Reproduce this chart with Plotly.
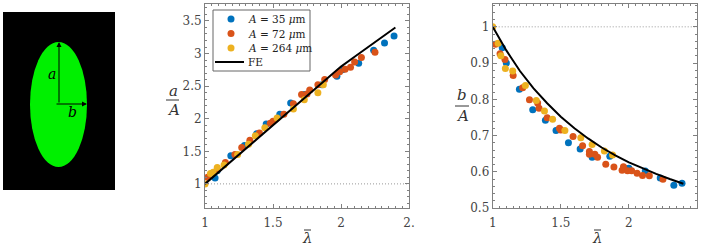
import plotly.graph_objects as go

W, H = 706, 246
FONT = "DejaVu Serif"

# ---- data: a/A vs lambda (middle panel) ----
a35_x = [1.074, 1.09, 1.19, 1.29, 1.38, 1.45, 1.55, 1.63, 1.73, 1.86, 1.97, 2.01, 2.13, 2.24, 2.32, 2.39]
a35_y = [1.09, 1.20, 1.43, 1.59, 1.77, 1.92, 2.07, 2.24, 2.37, 2.52, 2.65, 2.75, 2.85, 3.05, 3.16, 3.27]
a72_x = [1.02, 1.09, 1.15, 1.22, 1.27, 1.33, 1.40, 1.48, 1.50, 1.58, 1.65, 1.71, 1.75, 1.77, 1.83, 1.88, 1.96, 1.99, 2.03, 2.07, 2.10, 2.15, 2.25]
a72_y = [1.10, 1.22, 1.33, 1.45, 1.56, 1.67, 1.78, 1.93, 1.96, 2.07, 2.23, 2.37, 2.38, 2.44, 2.52, 2.60, 2.67, 2.72, 2.76, 2.79, 2.87, 2.94, 3.02]
a264_x = [1.00, 1.04, 1.06, 1.09, 1.14, 1.24, 1.32, 1.37, 1.44, 1.53, 1.65, 1.73, 1.83, 1.87]
a264_y = [1.00, 1.16, 1.18, 1.25, 1.29, 1.45, 1.61, 1.74, 1.86, 2.01, 2.15, 2.29, 2.40, 2.52]
fe_x = [1.0, 1.1, 1.2, 1.3, 1.4, 1.5, 1.6, 1.7, 1.8, 1.9, 2.0, 2.1, 2.2, 2.3, 2.4]
fe_a = [1.00, 1.18, 1.36, 1.54, 1.71, 1.89, 2.07, 2.25, 2.44, 2.62, 2.80, 2.95, 3.10, 3.25, 3.40]

# ---- data: b/A vs lambda (right panel) ----
b35_x = [1.07, 1.10, 1.196, 1.294, 1.387, 1.465, 1.556, 1.642, 1.73, 1.86, 1.97, 2.00, 2.12, 2.23, 2.33, 2.39]
b35_y = [0.942, 0.900, 0.828, 0.771, 0.742, 0.714, 0.680, 0.663, 0.640, 0.643, 0.610, 0.610, 0.602, 0.583, 0.563, 0.568]
b72_x = [1.02, 1.054, 1.09, 1.15, 1.22, 1.27, 1.33, 1.34, 1.40, 1.49, 1.50, 1.59, 1.66, 1.71, 1.71, 1.75, 1.77, 1.83, 1.89, 1.95, 1.96, 1.99, 2.02, 2.06, 2.10, 2.15, 2.25]
b72_y = [0.952, 0.926, 0.910, 0.866, 0.832, 0.799, 0.790, 0.775, 0.749, 0.720, 0.715, 0.697, 0.672, 0.656, 0.648, 0.648, 0.640, 0.621, 0.613, 0.604, 0.614, 0.603, 0.603, 0.596, 0.590, 0.589, 0.579]
b264_x = [1.00, 1.04, 1.06, 1.093, 1.147, 1.24, 1.32, 1.38, 1.44, 1.53, 1.647, 1.73, 1.82, 1.88]
b264_y = [1.00, 0.955, 0.920, 0.885, 0.878, 0.838, 0.797, 0.768, 0.745, 0.714, 0.694, 0.675, 0.657, 0.646]
fe_b = [1.00, 0.935, 0.878, 0.830, 0.789, 0.752, 0.720, 0.692, 0.667, 0.645, 0.626, 0.609, 0.594, 0.580, 0.567]

series_names = ["<i>A</i> = 35 <i>μ</i>m", "<i>A</i> = 72 <i>μ</i>m", "<i>A</i> = 264 <i>μ</i>m"]
fe_name = "FE"
colors = ["#0072BD", "#D95319", "#EDB120"]

fig = go.Figure()
mid = [(a35_x, a35_y), (a72_x, a72_y), (a264_x, a264_y)]
right = [(b35_x, b35_y), (b72_x, b72_y), (b264_x, b264_y)]
for i, (xs, ys) in enumerate(mid):
    fig.add_trace(go.Scatter(x=xs, y=ys, mode="markers", name=series_names[i], showlegend=False,
                             marker=dict(color=colors[i], size=7, line=dict(width=0)),
                             xaxis="x", yaxis="y"))
for i, (xs, ys) in enumerate(right):
    fig.add_trace(go.Scatter(x=xs, y=ys, mode="markers", name=series_names[i], showlegend=False,
                             marker=dict(color=colors[i], size=7, line=dict(width=0)),
                             xaxis="x2", yaxis="y2"))
fig.add_trace(go.Scatter(x=fe_x, y=fe_a, mode="lines", name=fe_name, showlegend=False,
                         line=dict(color="black", width=2), xaxis="x", yaxis="y"))
fig.add_trace(go.Scatter(x=fe_x, y=fe_b, mode="lines", name=fe_name, showlegend=False,
                         line=dict(color="black", width=2), xaxis="x2", yaxis="y2"))

def px(x):
    return x / W

def py(y):
    return 1 - y / H

ax_common = dict(showline=True, linecolor="#808080", linewidth=1, mirror="allticks",
                 ticks="inside", ticklen=4, tickcolor="#808080", showgrid=False, zeroline=False,
                 automargin=False,
                 tickfont=dict(family=FONT, size=12, color="#444444"))
ydom = [py(208), py(4)]
fig.update_layout(
    width=W, height=H, margin=dict(l=0, r=0, t=0, b=0, autoexpand=False),
    plot_bgcolor="white", paper_bgcolor="white", showlegend=False,
    font=dict(family=FONT, color="#222222"),
    xaxis=dict(domain=[px(205), px(409)], range=[1, 2.5], tickvals=[1, 1.5, 2, 2.5],
               ticktext=["1", "1.5", "2", "2."], anchor="y", ticklabelstandoff=4,
               minor=dict(dtick=0.05, ticklen=2, tickcolor="#808080", ticks="inside"), **ax_common),
    yaxis=dict(domain=ydom, range=[0.63, 3.76], tickvals=[1, 1.5, 2, 2.5, 3, 3.5],
               ticktext=["1", "1.5", "2", "2.5", "3", "3.5"], anchor="x",
               minor=dict(dtick=0.1, ticklen=2, tickcolor="#808080", ticks="inside"), **ax_common),
    xaxis2=dict(domain=[px(492.7), px(697)], range=[1, 2.5], tickvals=[1, 1.5, 2, 2.5],
                ticktext=["1", "1.5", "2", "2.5"], anchor="y2", ticklabelstandoff=4,
                minor=dict(dtick=0.05, ticklen=2, tickcolor="#808080", ticks="inside"), **ax_common),
    yaxis2=dict(domain=ydom, range=[0.5, 1.063], tickvals=[0.5, 0.6, 0.7, 0.8, 0.9, 1],
                ticktext=["0.5", "0.6", "0.7", "0.8", "0.9", "1"], anchor="x2",
                minor=dict(dtick=0.02, ticklen=2, tickcolor="#808080", ticks="inside"), **ax_common),
)

shapes = []
# reference dotted lines at 1
shapes.append(dict(type="line", xref="x", yref="y", x0=1, x1=2.5, y0=1, y1=1,
                   line=dict(color="#999999", width=1, dash="1px,2px"), layer="below"))
shapes.append(dict(type="line", xref="x2", yref="y2", x0=1, x1=2.5, y0=1, y1=1,
                   line=dict(color="#999999", width=1, dash="1px,2px"), layer="below"))
# left image: black frame + green ellipse
shapes.append(dict(type="rect", xref="paper", yref="paper", x0=px(3), x1=px(115), y0=py(190), y1=py(12),
                   fillcolor="black", line=dict(width=0)))
shapes.append(dict(type="circle", xref="paper", yref="paper", x0=px(30), x1=px(87), y0=py(167), y1=py(42),
                   fillcolor="#00F000", line=dict(width=0)))
# fraction bars
shapes.append(dict(type="line", xref="paper", yref="paper", x0=px(166), x1=px(179), y0=py(100), y1=py(100),
                   line=dict(color="#333333", width=1)))
shapes.append(dict(type="line", xref="paper", yref="paper", x0=px(455), x1=px(469), y0=py(106), y1=py(106),
                   line=dict(color="#333333", width=1)))
# bars over lambda
shapes.append(dict(type="line", xref="paper", yref="paper", x0=px(304), x1=px(311), y0=py(230), y1=py(230),
                   line=dict(color="#333333", width=1)))
shapes.append(dict(type="line", xref="paper", yref="paper", x0=px(594), x1=px(601), y0=py(230), y1=py(230),
                   line=dict(color="#333333", width=1)))

# legend box (drawn manually for compact spacing)
LX0, LX1, LY0, LY1 = 213, 310, 10, 71
shapes.append(dict(type="rect", xref="paper", yref="paper", x0=px(LX0), x1=px(LX1), y0=py(LY1), y1=py(LY0),
                   fillcolor="white", line=dict(color="#666666", width=1), layer="above"))
leg_rows = [19, 33.5, 48, 62]
for i, c in enumerate(colors):
    cy = leg_rows[i]
    shapes.append(dict(type="circle", xref="paper", yref="paper", x0=px(227.5), x1=px(234.5),
                       y0=py(cy + 3.5), y1=py(cy - 3.5), fillcolor=c, line=dict(width=0), layer="above"))
shapes.append(dict(type="line", xref="paper", yref="paper", x0=px(215), x1=px(244), y0=py(62), y1=py(62),
                   line=dict(color="black", width=2), layer="above"))
fig.update_layout(shapes=shapes)

ann = []
C = dict(xanchor="center", yanchor="middle", showarrow=False)
# arrows in ellipse
ann.append(dict(xref="paper", yref="paper", x=px(59), y=py(42), ax=0, ay=62, axref="pixel", ayref="pixel",
                showarrow=True, arrowhead=2, arrowsize=1, arrowwidth=1, arrowcolor="black", text=""))
ann.append(dict(xref="paper", yref="paper", x=px(87), y=py(104), ax=-32, ay=0, axref="pixel", ayref="pixel",
                showarrow=True, arrowhead=2, arrowsize=1, arrowwidth=1, arrowcolor="black", text=""))
ann.append(dict(xref="paper", yref="paper", x=px(52), y=py(74), text="<i>a</i>",
                font=dict(family=FONT, size=14, color="black"), **C))
ann.append(dict(xref="paper", yref="paper", x=px(72), y=py(112), text="<i>b</i>",
                font=dict(family=FONT, size=14, color="black"), **C))
# axis titles
lab = dict(family=FONT, size=15, color="#333333")
ann.append(dict(xref="paper", yref="paper", x=px(173), y=py(91), text="<i>a</i>", font=lab, **C))
ann.append(dict(xref="paper", yref="paper", x=px(173), y=py(110), text="<i>A</i>", font=lab, **C))
ann.append(dict(xref="paper", yref="paper", x=px(462), y=py(95), text="<i>b</i>", font=lab, **C))
ann.append(dict(xref="paper", yref="paper", x=px(462), y=py(116), text="<i>A</i>", font=lab, **C))
ann.append(dict(xref="paper", yref="paper", x=px(307), y=py(238), text="<i>λ</i>", font=lab, **C))
ann.append(dict(xref="paper", yref="paper", x=px(597), y=py(238), text="<i>λ</i>", font=lab, **C))
# legend texts
lt = dict(family=FONT, size=10.5, color="#222222")
for i, name in enumerate(series_names + [fe_name]):
    ann.append(dict(xref="paper", yref="paper", x=px(246), y=py(leg_rows[i]), text=name,
                    xanchor="left", yanchor="middle", showarrow=False, font=lt))
fig.update_layout(annotations=ann)

fig.write_html("out.html", config={"displayModeBar": False},
               post_script="document.body.style.margin='0';document.body.style.padding='0';")
